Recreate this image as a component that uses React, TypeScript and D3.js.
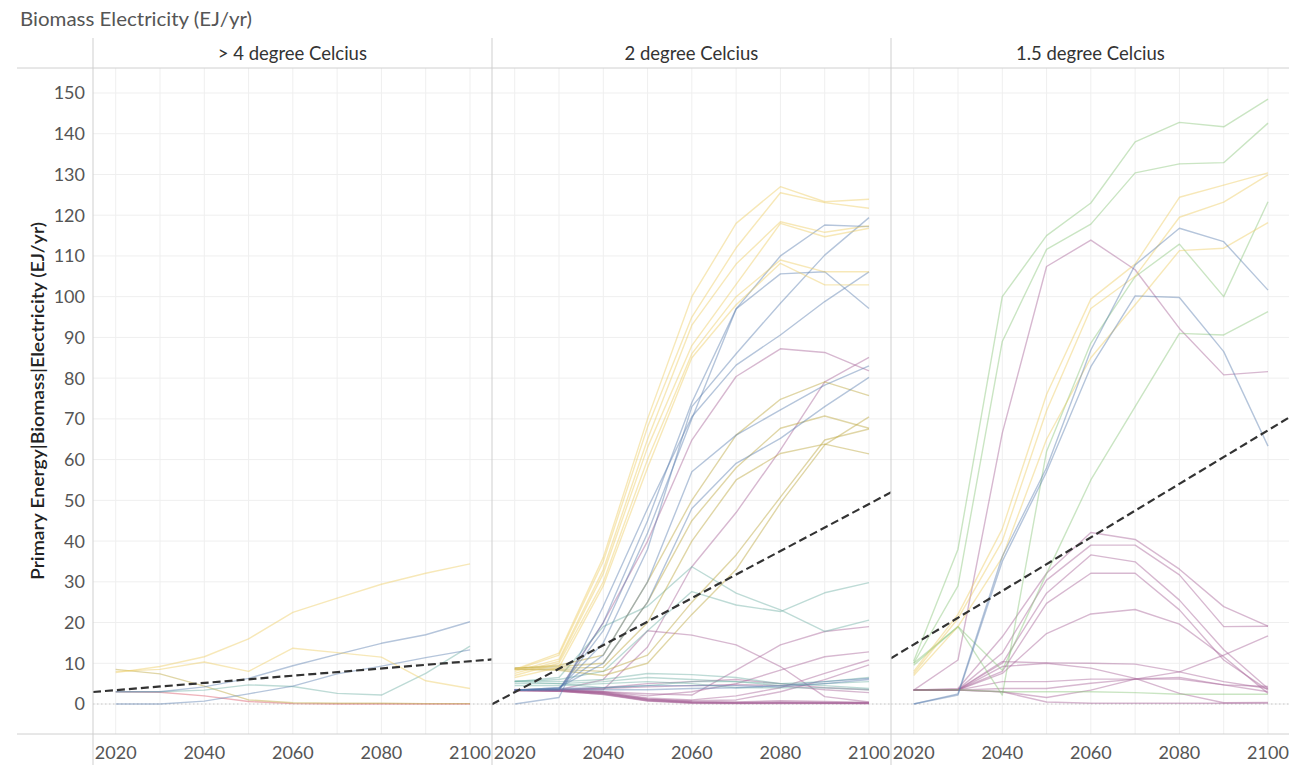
import React, { useEffect } from "react";
import * as d3 from "d3";

const W = 1289;
const H = 765;

const years = [2020, 2030, 2040, 2050, 2060, 2070, 2080, 2090, 2100];
const xTickLabels = [2020, 2040, 2060, 2080, 2100];
const yTicks = [0, 10, 20, 30, 40, 50, 60, 70, 80, 90, 100, 110, 120, 130, 140, 150];
const panelTitles = ["> 4 degree Celcius", "2 degree Celcius", "1.5 degree Celcius"];

// trend line values at 2020 and 2100 for each panel
const trendYears = [2020, 2100];
const p1Trend = [3.4, 10.5];
const p2Trend = [2.9, 49.1];
const p3Trend = [14.6, 67.2];

// ---- Panel 1: > 4 degree ----
const p1Yellow = [
  [7.7, 9.2, 11.6, 16.0, 22.5, 26.0, 29.4, 32.1, 34.4],
  [8.0, 8.5, 10.3, 8.0, 13.7, 12.6, 11.5, 5.7, 3.8],
];
const p1Olive = [[8.5, 7.4, 4.4, 1.0, 0.3, 0.2, 0.2, 0.1, 0.1]];
const p1Blue = [
  [3.0, 3.0, 4.2, 6.3, 9.4, 12.2, 14.9, 17.0, 20.2],
  [0, 0, 0.7, 2.5, 4.4, 7.4, 9.3, 11.4, 13.3],
];
const p1Teal = [[3.0, 3.0, 3.4, 4.7, 4.3, 2.6, 2.2, 7.5, 14.2]];
const p1Red = [[3.0, 2.9, 2.0, 0.6, 0.1, 0, 0, 0, 0]];

// ---- Panel 2: 2 degree ----
const p2Yellow = [
  [8.5, 12.5, 36, 70, 100, 118, 127, 123.3, 123.9],
  [8.3, 12, 35, 68, 95, 112, 125.5, 123.1, 121.7],
  [8, 11, 33, 65, 93, 108, 118.4, 115.8, 117.4],
  [7.5, 10.5, 32, 63, 88, 103, 118, 114.7, 116.8],
  [7, 10, 30, 60, 86, 100, 109, 106.1, 106.1],
  [6.5, 9, 29, 58, 85, 98, 108.2, 102.9, 102.9],
];
const p2Olive = [
  [8.8, 9.5, 12, 30, 50, 66, 74.8, 79.1, 75.7],
  [8.8, 9.2, 10, 25, 45, 58, 67.7, 70.7, 67.7],
  [8.8, 8.8, 9, 20, 40, 55, 61.5, 63.8, 61.4],
  [8.5, 8.5, 8, 12, 25, 36.6, 50.8, 64.8, 67.5],
  [8.5, 8.3, 7, 10, 22, 33, 49.3, 63.6, 70.5],
];
const p2Blue = [
  [3.4, 3.5, 20, 45, 74, 97, 110, 117.6, 117.2],
  [3.4, 3.5, 18, 42, 70, 97, 105.6, 106.1, 97.1],
  [3.4, 3.8, 15, 38, 73, 86, 98.4, 110.2, 119.4],
  [0, 1.6, 24, 48, 70.5, 83.2, 90.6, 98.8, 106.1],
  [3.4, 4, 12, 30, 57, 66, 72.2, 78.3, 83],
  [3.4, 4, 10, 25, 48, 59.1, 65.2, 73, 80.2],
  [3.4, 3.8, 4, 4.5, 4.5, 4.5, 4.2, 5, 6],
  [3.4, 3.6, 3.5, 3.5, 3.8, 4, 4.5, 5.5, 6.3],
];
const p2Teal = [
  [5.5, 6, 8, 18, 27.6, 24.3, 22.7, 27.3, 29.8],
  [5.5, 6.5, 19, 24, 33.7, 27.2, 23.1, 17.8, 20.6],
  [5.7, 5.5, 6, 7.5, 7.2, 6.5, 5, 5.5, 6.5],
  [5, 5, 5.5, 6.5, 6, 5.5, 4.5, 5, 5.5],
  [4.5, 4.5, 5, 5.5, 5, 4, 4, 4, 3.5],
  [5.5, 5, 4, 4.5, 5.5, 5.5, 5, 4.5, 3.8],
];
const p2Purple = [
  [3.4, 3.4, 20, 40, 64.8, 80.4, 87.2, 86.3, 81.8],
  [3.4, 3.4, 3.5, 14, 33.7, 47, 62.4, 79.1, 85.1],
  [3.4, 3.5, 6, 18, 16.9, 14.5, 9.2, 1.8, 0.5],
  [3.4, 3.4, 3, 2.5, 2.2, 8.3, 14.5, 17.8, 19],
  [3.4, 3.3, 3, 2, 3, 5, 8.3, 11.6, 12.8],
  [3.4, 3.2, 2.8, 1.5, 1, 2, 4, 7.5, 10.8],
  [3.4, 3.2, 2.6, 1.2, 0.8, 1, 3, 6, 9.6],
  [3.4, 3.5, 4, 5, 5.5, 6, 5, 4, 3.5],
  [3.4, 3.5, 3.8, 4.2, 4.5, 4.8, 4.5, 3.5, 2.8],
  [3.4, 3.3, 2.5, 0.8, 0.3, 0.2, 0.2, 0.2, 0.2],
  [3.5, 3.4, 2.8, 1.0, 0.4, 0.3, 0.3, 0.3, 0.3],
  [3.3, 3.2, 2.3, 0.7, 0.2, 0.1, 0.1, 0.1, 0.1],
  [3.6, 3.5, 3.0, 1.3, 0.5, 0.4, 0.5, 0.4, 0.3],
  [3.4, 3.4, 2.6, 1.1, 0.6, 0.5, 0.8, 0.6, 0.4],
  [3.2, 3.1, 2.4, 0.9, 0.3, 0.2, 0.3, 0.2, 0.1],
];

// ---- Panel 3: 1.5 degree ----
const p3Green = [
  [10.5, 38, 100, 115, 123, 138, 142.8, 141.7, 148.5],
  [10, 29, 89, 111.6, 117.8, 130.4, 132.6, 132.9, 142.6],
  [10, 19, 2.2, 62, 88.6, 104.9, 112.9, 100, 123.3],
  [9.5, 19, 8.3, 32, 55, 73, 91, 90.6, 96.3],
  [3.4, 3.5, 3, 3, 3, 2.8, 2.4, 2.4, 2.4],
];
const p3Yellow = [
  [8, 22, 43, 76, 99.4, 108, 124.4, 127.4, 130.4],
  [7.5, 21, 40, 72, 97.1, 105, 119.5, 123.2, 129.9],
  [7, 19, 36, 65, 85, 98, 111.3, 111.9, 118.2],
];
const p3Blue = [
  [0, 2.5, 36.2, 58, 86.9, 107.8, 116.8, 113.5, 101.6],
  [0, 2.2, 35, 57, 82.8, 100.2, 99.8, 86.5, 63.3],
];
const p3Purple = [
  [3.4, 10.8, 66.5, 107.4, 113.9, 106.6, 92.2, 80.8, 81.6],
  [3.4, 3.8, 16.5, 32.1, 42.1, 40.4, 33.1, 23.9, 19.1],
  [3.4, 3.6, 12.5, 30.4, 39.0, 39.0, 31.7, 19.0, 19.1],
  [3.4, 3.5, 10, 27.2, 36.6, 34.9, 25.5, 13.3, 3.8],
  [3.4, 3.5, 8, 24.7, 32.1, 32.1, 23.1, 10.8, 3.4],
  [3.4, 3.4, 7.5, 17.3, 22.1, 23.2, 19.6, 11.6, 2.6],
  [3.4, 3.4, 3.0, 1.6, 3.4, 6.1, 7.9, 12.0, 16.7],
  [3.4, 3.5, 10.4, 10.1, 10.0, 9.8, 7.9, 5.5, 3.8],
  [3.4, 3.4, 9.2, 10.0, 8.8, 6.3, 2.6, 0.3, 0.4],
  [3.4, 3.4, 5.5, 5.5, 6.1, 6.1, 6.1, 4.7, 3.0],
  [3.4, 3.4, 3.8, 3.8, 5.1, 6.1, 6.5, 4.7, 4.3],
  [3.4, 3.4, 3.0, 0.5, 0.2, 0.2, 0.2, 0.2, 0.2],
];

const colors: Record<string, string> = {
  yellow: "#eecb61",
  olive: "#bba339",
  blue: "#5c7faf",
  teal: "#6eafa3",
  purple: "#a76196",
  green: "#89c57b",
  red: "#d95769",
};

type Group = { color: string; lines: number[][] };

const panelSeries: Group[][] = [
  [
    { color: "red", lines: p1Red },
    { color: "olive", lines: p1Olive },
    { color: "teal", lines: p1Teal },
    { color: "blue", lines: p1Blue },
    { color: "yellow", lines: p1Yellow },
  ],
  [
    { color: "purple", lines: p2Purple },
    { color: "teal", lines: p2Teal },
    { color: "olive", lines: p2Olive },
    { color: "blue", lines: p2Blue },
    { color: "yellow", lines: p2Yellow },
  ],
  [
    { color: "purple", lines: p3Purple },
    { color: "green", lines: p3Green },
    { color: "yellow", lines: p3Yellow },
    { color: "blue", lines: p3Blue },
  ],
];
const panelTrends = [p1Trend, p2Trend, p3Trend];

// layout
const panelLefts = [93, 492, 891];
const panelWidth = 398.7;
const plotTop = 68;
const plotBottom = 734;
const headerTop = 38;
const FONT = "Lato, 'Open Sans', sans-serif";

const yScale = d3.scaleLinear().domain([0, 150]).range([704, 93]);

export default function App() {
  useEffect(() => {
    document.body.style.margin = "0";
  }, []);

  const line = (x: d3.ScaleLinear<number, number>) =>
    d3
      .line<number>()
      .x((_, i) => x(years[i]))
      .y((d) => yScale(d));

  return (
    <svg width={W} height={H} style={{ display: "block", background: "#fff" }} fontFamily={FONT}>
      <defs>
        {panelLefts.map((l, pi) => (
          <clipPath id={`clip${pi}`} key={pi}>
            <rect x={l} y={plotTop} width={panelWidth} height={plotBottom - plotTop} />
          </clipPath>
        ))}
      </defs>

      {/* title */}
      <text x={20} y={26} fontSize={19} fill="#555" textLength={232} lengthAdjust="spacingAndGlyphs">
        Biomass Electricity (EJ/yr)
      </text>

      {/* horizontal gridlines */}
      {yTicks.map((t) => (
        <line key={t} x1={93} x2={W} y1={yScale(t)} y2={yScale(t)} stroke="#efefef" strokeWidth={1} />
      ))}

      {panelLefts.map((left, pi) => {
        const x = d3.scaleLinear().domain([2020, 2100]).range([left + 22.7, left + 377]);
        const lg = line(x);
        const tr = panelTrends[pi];
        const slope = (tr[1] - tr[0]) / (trendYears[1] - trendYears[0]);
        const yr0 = x.invert(left);
        const yr1 = x.invert(left + panelWidth + 1);
        const t0 = tr[0] + slope * (yr0 - trendYears[0]);
        const t1 = tr[0] + slope * (yr1 - trendYears[0]);
        return (
          <g key={pi}>
            {years.map((yv) => (
              <line key={yv} x1={x(yv)} x2={x(yv)} y1={plotTop} y2={plotBottom} stroke="#efefef" strokeWidth={1} />
            ))}
            <line
              x1={left}
              x2={left + panelWidth}
              y1={yScale(0)}
              y2={yScale(0)}
              stroke="#c8c8c8"
              strokeWidth={1}
              strokeDasharray="1.5,2.5"
            />
            <g clipPath={`url(#clip${pi})`}>
              {panelSeries[pi].map((g, gi) =>
                g.lines.map((vals, li) => (
                  <path
                    key={`${gi}-${li}`}
                    d={lg(vals) || ""}
                    fill="none"
                    stroke={colors[g.color]}
                    strokeOpacity={0.45}
                    strokeWidth={1.4}
                    strokeLinejoin="round"
                  />
                ))
              )}
              <line
                x1={x(yr0)}
                x2={x(yr1)}
                y1={yScale(t0)}
                y2={yScale(t1)}
                stroke="#333"
                strokeWidth={2.2}
                strokeDasharray="8,4"
              />
            </g>
            <text
              x={left + panelWidth / 2}
              y={60}
              textAnchor="middle"
              fontSize={18.5}
              fill="#333"
            >
              {panelTitles[pi]}
            </text>
            {xTickLabels.map((yv) => (
              <text key={yv} x={x(yv)} y={759} textAnchor="middle" fontSize={18} fill="#555">
                {yv}
              </text>
            ))}
          </g>
        );
      })}

      {/* frame lines */}
      <line x1={17} x2={W} y1={plotTop} y2={plotTop} stroke="#d0d0d0" />
      <line x1={17} x2={W} y1={plotBottom} y2={plotBottom} stroke="#d0d0d0" />
      {panelLefts.map((l) => (
        <line key={l} x1={l} x2={l} y1={headerTop} y2={H} stroke="#cfcfcf" />
      ))}

      {/* y ticks */}
      {yTicks.map((t) => (
        <text key={t} x={85} y={yScale(t)} dy="0.36em" textAnchor="end" fontSize={18} fill="#555">
          {t}
        </text>
      ))}
      <text
        transform={`translate(44, 401) rotate(-90)`}
        textAnchor="middle"
        fontSize={17}
        fontWeight={600}
        fill="#222"
        textLength={358}
        lengthAdjust="spacingAndGlyphs"
      >
        Primary Energy|Biomass|Electricity (EJ/yr)
      </text>
    </svg>
  );
}
